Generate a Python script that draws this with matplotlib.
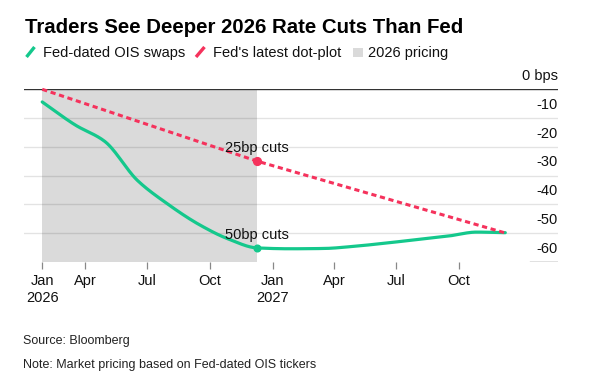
import numpy as np
import matplotlib
matplotlib.use("Agg")
import matplotlib.pyplot as plt
import matplotlib.dates as mdates
from matplotlib.lines import Line2D
from matplotlib.patches import Rectangle
import datetime as dt

plt.rcParams['font.family'] = ['Liberation Sans', 'DejaVu Sans']

# ---------------- data ----------------
meeting_dates = ["2026-01-28", "2026-03-18", "2026-04-29", "2026-06-17", "2026-07-29",
                 "2026-09-16", "2026-10-28", "2026-12-09", "2027-01-27", "2027-03-17",
                 "2027-04-28", "2027-06-09", "2027-07-28", "2027-09-15", "2027-10-27",
                 "2027-12-08"]
ois_bps = [-4.4, -12.5, -18.0, -31.8, -39.6, -47.2, -52.1, -55.2, -55.5, -55.4,
           -54.7, -53.7, -52.4, -51.1, -49.7, -49.9]

dot_dates = ["2026-01-28", "2026-12-09", "2027-12-08"]
dot_bps = [0, -25, -50]

pricing_start = "2026-01-28"
pricing_end = "2026-12-09"

tick_dates = ["2026-01-28", "2026-04-01", "2026-07-01", "2026-10-01",
              "2027-01-01", "2027-04-01", "2027-07-01", "2027-10-01"]
tick_labels = ["Jan\n2026", "Apr", "Jul", "Oct", "Jan\n2027", "Apr", "Jul", "Oct"]
y_ticks = [0, -10, -20, -30, -40, -50, -60]
y_tick_labels = ["0 bps", "-10", "-20", "-30", "-40", "-50", "-60"]

title = "Traders See Deeper 2026 Rate Cuts Than Fed"
legend_labels = ["Fed-dated OIS swaps", "Fed's latest dot-plot", "2026 pricing"]
source = "Source: Bloomberg"
note = "Note: Market pricing based on Fed-dated OIS tickers"

GREEN = "#14c88c"
RED = "#f5325c"
GRAY = "#dadada"

def d2n(s):
    return mdates.date2num(dt.datetime.strptime(s, "%Y-%m-%d"))

def monotone(x, y, n=400):
    x = np.asarray(x, float); y = np.asarray(y, float)
    h = np.diff(x); s = np.diff(y) / h
    m = np.zeros_like(y)
    m[0], m[-1] = s[0], s[-1]
    for i in range(1, len(y) - 1):
        if s[i - 1] * s[i] <= 0:
            m[i] = 0
        else:
            w1 = 2 * h[i] + h[i - 1]; w2 = h[i] + 2 * h[i - 1]
            m[i] = (w1 + w2) / (w1 / s[i - 1] + w2 / s[i])
    xs = np.linspace(x[0], x[-1], n)
    idx = np.clip(np.searchsorted(x, xs) - 1, 0, len(x) - 2)
    t = (xs - x[idx]) / h[idx]
    h00 = 2 * t**3 - 3 * t**2 + 1; h10 = t**3 - 2 * t**2 + t
    h01 = -2 * t**3 + 3 * t**2; h11 = t**3 - t**2
    ys = h00 * y[idx] + h10 * h[idx] * m[idx] + h01 * y[idx + 1] + h11 * h[idx] * m[idx + 1]
    return xs, ys

W, H = 599, 379
fig = plt.figure(figsize=(W / 100, H / 100), dpi=100)

def fx(px): return px / W
def fy(py): return 1 - py / H

ax_left, ax_right, ax_top, ax_bot = 24, 558, 89.3, 261.7
ax = fig.add_axes([fx(ax_left), fy(ax_bot), (ax_right - ax_left) / W, (ax_bot - ax_top) / H])

base = d2n("2026-01-01")
px0, ppd = 23.8, 0.682
ax.set_xlim(base + (ax_left - px0) / ppd, base + (ax_right - px0) / ppd)
ax.set_ylim(-60, 0)
for sp in ax.spines.values():
    sp.set_visible(False)

# shaded 2026 pricing
ax.axvspan(d2n(pricing_start), d2n(pricing_end), ymin=0, ymax=1, color=GRAY, lw=0, zorder=1)

# gridlines
for v in y_ticks[1:-1]:
    ax.axhline(v, color="black", alpha=0.11, lw=1.0, zorder=2)
ax.axhline(0, color="#333333", lw=1.0, zorder=2.5)
ax.axhline(-60, xmin=(530 - ax_left) / (ax_right - ax_left), xmax=1, color="#666666", lw=1.0, zorder=2.5)

# y labels (above gridlines, right aligned)
ax.set_yticks([])
for v, lab in zip(y_ticks, y_tick_labels):
    ax.annotate(lab, xy=(1.0, v), xycoords=("axes fraction", "data"),
                xytext=(0, 6.5), textcoords="offset points",
                ha="right", va="baseline", fontsize=10.5, color="#111111",
                annotation_clip=False)

# lines
ox = [d2n(s) for s in meeting_dates]
sx, sy = monotone(ox, ois_bps)
ax.plot(sx, sy, color=GREEN, lw=2.3, solid_capstyle="round", zorder=4, clip_on=False)
dx = [d2n(s) for s in dot_dates]
ax.plot(dx, dot_bps, color=RED, lw=2.2, linestyle=(0, (1.7, 1.2)), dash_capstyle="butt",
        zorder=5, clip_on=False)

# markers and annotations at end of 2026
ie = meeting_dates.index(pricing_end)
ax.plot([ox[ie]], [ois_bps[ie]], "o", color=GREEN, ms=4.8, zorder=6, clip_on=False)
ax.plot([dx[1]], [dot_bps[1]], "o", color=RED, ms=5.6, zorder=6, clip_on=False)
ax.annotate("25bp cuts", xy=(dx[1], dot_bps[1]), xytext=(0, 6.3), textcoords="offset points",
            ha="center", va="baseline", fontsize=10.5, color="#111111", zorder=7)
ax.annotate("50bp cuts", xy=(ox[ie], ois_bps[ie]), xytext=(0, 6.3), textcoords="offset points",
            ha="center", va="baseline", fontsize=10.5, color="#111111", zorder=7)

# x ticks
ax.set_xticks([d2n(s) for s in tick_dates])
ax.set_xticklabels(tick_labels, fontsize=10.5, color="#111111", linespacing=1.3)
ax.tick_params(axis="x", length=5, width=0.9, color="#888888", pad=4)

# title, legend, footer
fig.text(fx(25), fy(33.3), title, fontsize=14.7, fontweight="bold", color="black",
         ha="left", va="baseline")
leg_y = fy(57.3)
fig.add_artist(Line2D([fx(26.5), fx(34.5)], [fy(57), fy(47)], color=GREEN, lw=2.4,
                      solid_capstyle="butt", transform=fig.transFigure))
fig.text(fx(42.7), leg_y, legend_labels[0], fontsize=10.5, ha="left", va="baseline", color="#111111")
fig.add_artist(Line2D([fx(196), fx(204.5)], [fy(57), fy(47)], color=RED, lw=2.4,
                      solid_capstyle="butt", transform=fig.transFigure))
fig.text(fx(212.7), leg_y, legend_labels[1], fontsize=10.5, ha="left", va="baseline", color="#111111")
fig.add_artist(Rectangle((fx(353.3), fy(56.7)), 9.4 / W, 9.0 / H, color=GRAY, lw=0,
                         transform=fig.transFigure))
fig.text(fx(368.3), leg_y, legend_labels[2], fontsize=10.5, ha="left", va="baseline", color="#111111")

fig.text(fx(23.3), fy(344), source, fontsize=9, ha="left", va="baseline", color="#222222")
fig.text(fx(23.3), fy(368.3), note, fontsize=9, ha="left", va="baseline", color="#222222")

fig.savefig("out.png", dpi=100)
